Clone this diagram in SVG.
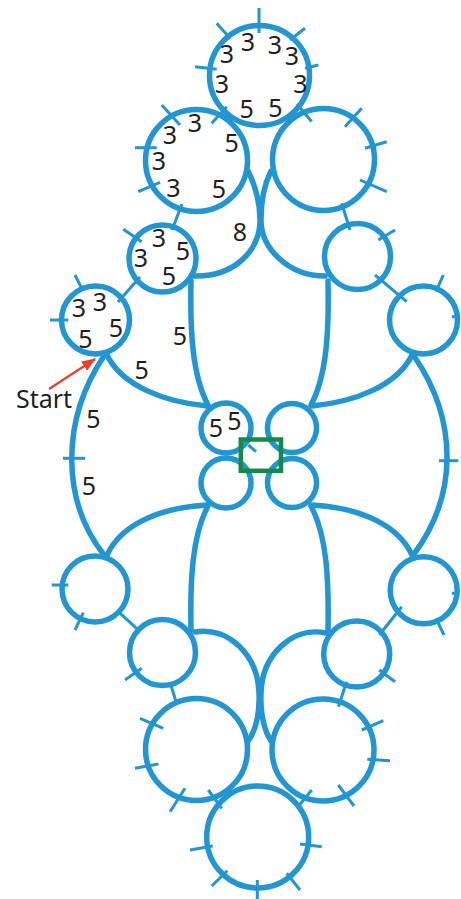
<svg xmlns="http://www.w3.org/2000/svg" width="461" height="899" viewBox="0 0 461 899">
<defs>
<style>
.ring{fill:none;stroke:#2196d3;stroke-width:5.5}
.chain{fill:none;stroke:#2196d3;stroke-width:5.5;stroke-linecap:round}
.p{stroke:#2196d3;stroke-width:3;fill:none}
.t{font-family:"Noto Sans","Open Sans",sans-serif;font-size:25px;fill:#231f20;text-anchor:middle}
.lbl{font-family:"Noto Sans","Open Sans",sans-serif;font-size:25px;fill:#231f20}
</style>
<marker id="ah" viewBox="0 0 14 11" refX="13" refY="5.5" markerWidth="14" markerHeight="11" markerUnits="userSpaceOnUse" orient="auto">
<path d="M0,0 L14,5.5 L0,11 z" fill="#e8402a"/>
</marker>
</defs>
<rect width="461" height="899" fill="#fff"/>
<g id="connectors">
<path class="chain" d="M248,171 C255,185 260,203 260,220 C260,250 235,277 194,276"/>
<path class="chain" d="M271,171 C264,185 261,203 261,220 C261,248 288,276 325,276"/>
<path class="chain" d="M195,632 C228,626 258,655 259,693 C260,715 255,732 248,741"/>
<path class="chain" d="M326,633 C292,626 262,655 261,693 C260,715 265,732 271,741"/>
<path class="chain" d="M191,281 C190,330 192,375 208,405"/>
<path class="chain" d="M208,506 C192,536 190,581 191,630"/>
<path class="chain" d="M328,281 C329,330 327,375 311,405"/>
<path class="chain" d="M311,506 C327,536 329,581 328,630"/>
<path class="chain" d="M107,355 C122,386 165,402 207,406"/>
<path class="chain" d="M412,355 C397,386 354,402 312,406"/>
<path class="chain" d="M107,555 C120,527 155,508 207,505"/>
<path class="chain" d="M412,555 C399,527 364,508 312,505"/>
<path class="chain" d="M104,356 C61,420 61,500 104,555"/>
<path class="chain" d="M414,356 C458,420 458,495 414,554"/>
<line class="p" x1="63" y1="458.3" x2="85" y2="458.3"/>
<line class="p" x1="439" y1="460.7" x2="458.3" y2="460.7"/>
<line class="p" x1="211.7" y1="123.3" x2="226.7" y2="106.7"/>
<line class="p" x1="297" y1="104" x2="311.5" y2="121.5"/>
<line class="p" x1="182" y1="204" x2="172" y2="230"/>
<line class="p" x1="140" y1="277" x2="118" y2="302"/>
<line class="p" x1="341.7" y1="203.3" x2="350" y2="230"/>
<line class="p" x1="375" y1="275" x2="406.7" y2="301.7"/>
<line class="p" x1="118.3" y1="611.7" x2="140" y2="631.7"/>
<line class="p" x1="170" y1="682" x2="177" y2="705"/>
<line class="p" x1="208.3" y1="790" x2="221.7" y2="808.3"/>
<line class="p" x1="311.7" y1="790" x2="296.7" y2="808.3"/>
<line class="p" x1="346.5" y1="681.7" x2="338.5" y2="706.7"/>
<line class="p" x1="401.7" y1="606.7" x2="379.3" y2="635"/>
<text class="t" x="180" y="345.3">5</text>
<text class="t" x="141.7" y="379">5</text>
<text class="t" x="93.3" y="428">5</text>
<text class="t" x="89" y="494.8">5</text>
<text class="t" x="240" y="240.7">8</text>
</g>
<g id="ring-top">
<circle class="ring" cx="259.5" cy="75.5" r="50"/>
<line class="p" x1="259" y1="8" x2="259" y2="33"/>
<line class="p" x1="216.7" y1="23.3" x2="230" y2="38.3"/>
<line class="p" x1="290" y1="40" x2="305" y2="28.3"/>
<line class="p" x1="195" y1="66.7" x2="216.7" y2="69.3"/>
<line class="p" x1="305" y1="68.3" x2="318.3" y2="65"/>
<text class="t" x="247.8" y="51">3</text>
<text class="t" x="275" y="53.7">3</text>
<text class="t" x="227" y="63">3</text>
<text class="t" x="292" y="64.8">3</text>
<text class="t" x="222" y="93">3</text>
<text class="t" x="300.3" y="93">3</text>
<text class="t" x="246.7" y="118">5</text>
<text class="t" x="275.5" y="116.5">5</text>
</g>
<g id="ring-2L">
<circle class="ring" cx="196.5" cy="160.5" r="51"/>
<line class="p" x1="161.7" y1="105" x2="180" y2="125"/>
<line class="p" x1="135" y1="147.7" x2="156.7" y2="147.7"/>
<line class="p" x1="138.3" y1="191.7" x2="160" y2="182.3"/>
<text class="t" x="195" y="131.5">3</text>
<text class="t" x="170" y="144">3</text>
<text class="t" x="159" y="170">3</text>
<text class="t" x="173.3" y="197.3">3</text>
<text class="t" x="231.7" y="152">5</text>
<text class="t" x="218.8" y="198">5</text>
</g>
<g id="ring-2R">
<circle class="ring" cx="323.5" cy="159.5" r="51"/>
<line class="p" x1="361.7" y1="108.3" x2="345" y2="126.7"/>
<line class="p" x1="365" y1="148.3" x2="386.7" y2="141.7"/>
<line class="p" x1="360" y1="180" x2="386.7" y2="191.7"/>
</g>
<g id="ring-3L">
<circle class="ring" cx="162.5" cy="258.5" r="33.5"/>
<line class="p" x1="123.3" y1="229.3" x2="141.7" y2="241.7"/>
<text class="t" x="159" y="247.3">3</text>
<text class="t" x="140.8" y="266.5">3</text>
<text class="t" x="182.8" y="259.8">5</text>
<text class="t" x="168.8" y="284.8">5</text>
</g>
<g id="ring-3R">
<circle class="ring" cx="357.5" cy="256.5" r="33"/>
<line class="p" x1="378.3" y1="240" x2="395" y2="230"/>
</g>
<g id="ring-4L">
<circle class="ring" cx="95.5" cy="320" r="34"/>
<line class="p" x1="75" y1="275" x2="81.7" y2="288.3"/>
<line class="p" x1="50" y1="320" x2="68.3" y2="320"/>
<text class="t" x="100" y="310.7">3</text>
<text class="t" x="79" y="316.5">3</text>
<text class="t" x="116" y="336.5">5</text>
<text class="t" x="85.5" y="348">5</text>
</g>
<g id="ring-4R">
<circle class="ring" cx="423.5" cy="320" r="34"/>
<line class="p" x1="443.3" y1="275" x2="436" y2="291.7"/>
<line class="p" x1="451.7" y1="316.7" x2="460" y2="316.7"/>
</g>
<g id="ring-cUL">
<circle class="ring" cx="226" cy="428" r="25"/>
<line class="p" x1="248.3" y1="445" x2="256" y2="451.7"/>
<text class="t" x="215.8" y="437.3">5</text>
<text class="t" x="234.5" y="429.8">5</text>
</g>
<g id="ring-cUR">
<circle class="ring" cx="292" cy="428" r="24.5"/>
</g>
<g id="ring-cLL">
<circle class="ring" cx="226" cy="483" r="25"/>
</g>
<g id="ring-cLR">
<circle class="ring" cx="292" cy="483" r="24.5"/>
</g>
<g id="ring-6L">
<circle class="ring" cx="95" cy="589" r="33"/>
<line class="p" x1="51.7" y1="585" x2="68.3" y2="585"/>
<line class="p" x1="83.3" y1="612.7" x2="75" y2="630"/>
</g>
<g id="ring-6R">
<circle class="ring" cx="423.7" cy="590.3" r="33.5"/>
<line class="p" x1="451.7" y1="593.3" x2="459.3" y2="593.3"/>
<line class="p" x1="436" y1="618.3" x2="444" y2="635"/>
</g>
<g id="ring-7L">
<circle class="ring" cx="162.5" cy="652.5" r="33"/>
<line class="p" x1="141.7" y1="668.3" x2="125" y2="680"/>
</g>
<g id="ring-7R">
<circle class="ring" cx="356.7" cy="654" r="33"/>
<line class="p" x1="379.3" y1="670" x2="395" y2="681.7"/>
</g>
<g id="ring-BL">
<circle class="ring" cx="196.5" cy="749.5" r="51"/>
<line class="p" x1="140" y1="718.3" x2="163.3" y2="728.3"/>
<line class="p" x1="135" y1="768.3" x2="158.3" y2="764"/>
<line class="p" x1="185" y1="788.3" x2="170" y2="811.7"/>
</g>
<g id="ring-BR">
<circle class="ring" cx="323" cy="750" r="51"/>
<line class="p" x1="361.7" y1="730" x2="383.3" y2="720.7"/>
<line class="p" x1="367.3" y1="759.3" x2="390" y2="760.7"/>
<line class="p" x1="338.3" y1="785" x2="354" y2="806"/>
</g>
<g id="ring-bottom">
<circle class="ring" cx="257.7" cy="837" r="51"/>
<line class="p" x1="190" y1="850" x2="212.7" y2="846"/>
<line class="p" x1="211.7" y1="886" x2="227.3" y2="870.7"/>
<line class="p" x1="257.3" y1="880" x2="257.3" y2="899"/>
<line class="p" x1="286.7" y1="873.3" x2="300" y2="890"/>
<line class="p" x1="300" y1="844" x2="321.7" y2="846.7"/>
</g>
<g id="start">
<text class="lbl" x="16" y="408">Start</text>
<line x1="49" y1="389" x2="95" y2="359" stroke="#e8402a" stroke-width="2.2" marker-end="url(#ah)"/>
</g>
<g id="marker-box">
<rect x="240.8" y="439.5" width="40.2" height="31.3" fill="none" stroke="#138a48" stroke-width="4.5"/>
</g>
</svg>
